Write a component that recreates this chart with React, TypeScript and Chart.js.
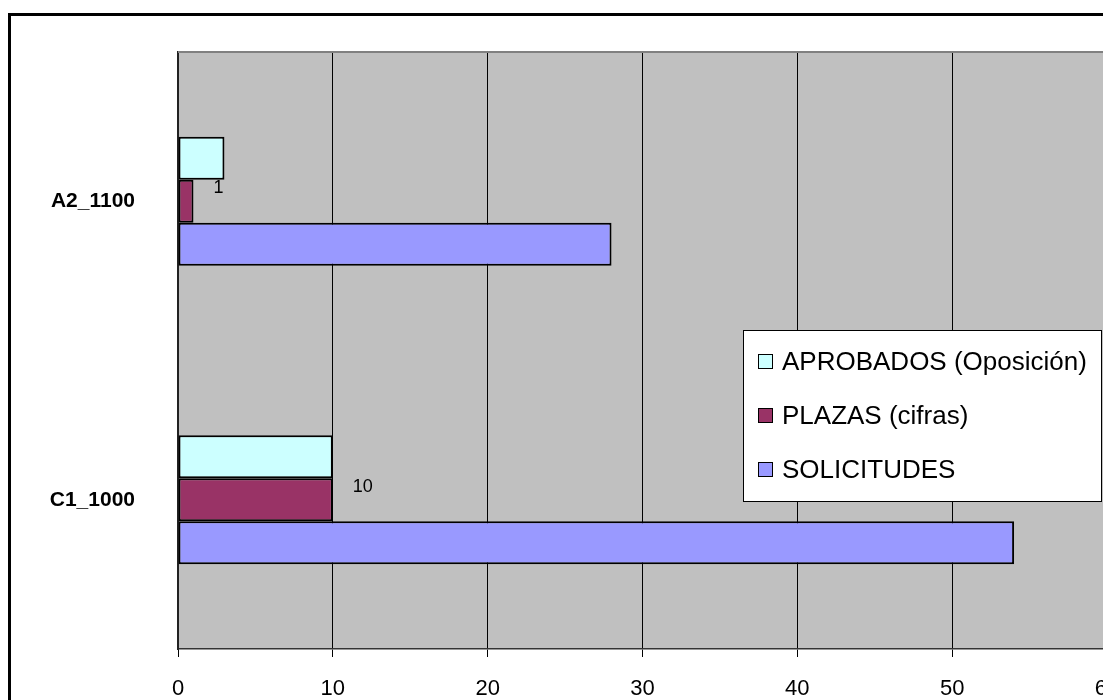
import React, { useEffect, useRef } from "react";
import { Chart, registerables } from "chart.js";

Chart.register(...registerables);

const categories = ["A2_1100", "C1_1000"];
const seriesNames = ["APROBADOS (Oposición)", "PLAZAS (cifras)", "SOLICITUDES"];
const aprobados = [3, 10];
const plazas = [1, 10];
const solicitudes = [28, 54];
const seriesColors = ["#CCFFFF", "#993366", "#9999FF"];
const xMin = 0;
const xMax = 60;
const xStep = 10;

const FONT = "'Liberation Sans', Arial, sans-serif";

const plotBgPlugin = {
  id: "plotBg",
  beforeDraw(chart: any) {
    const { ctx, chartArea: a } = chart;
    ctx.save();
    ctx.fillStyle = "#C0C0C0";
    ctx.fillRect(a.left, a.top, a.right - a.left, a.bottom - a.top);
    ctx.restore();
  },
  afterDatasetsDraw(chart: any) {
    const { ctx, chartArea: a } = chart;
    ctx.save();
    ctx.strokeStyle = "#808080";
    ctx.lineWidth = 2;
    ctx.beginPath();
    ctx.moveTo(a.left, a.top);
    ctx.lineTo(a.right, a.top);
    ctx.lineTo(a.right, a.bottom);
    ctx.stroke();
    ctx.restore();
  },
};

const valueLabelPlugin = {
  id: "valueLabels",
  afterDatasetsDraw(chart: any) {
    const { ctx } = chart;
    const dsIndex = 1;
    const meta = chart.getDatasetMeta(dsIndex);
    const values = chart.data.datasets[dsIndex].data;
    ctx.save();
    ctx.fillStyle = "#000";
    ctx.font = `18px ${FONT}`;
    ctx.textAlign = "left";
    ctx.textBaseline = "middle";
    meta.data.forEach((el: any, i: number) => {
      ctx.fillText(String(values[i]), el.x + 20, el.y - 13);
    });
    ctx.restore();
  },
};

const boxLegendPlugin = {
  id: "boxLegend",
  afterDraw(chart: any) {
    const { ctx } = chart;
    const bx = 732;
    const by = 314;
    const bw = 358;
    const bh = 171;
    ctx.save();
    ctx.fillStyle = "#FFFFFF";
    ctx.fillRect(bx, by, bw, bh);
    ctx.strokeStyle = "#000";
    ctx.lineWidth = 1;
    ctx.strokeRect(bx + 0.5, by + 0.5, bw, bh);
    ctx.font = `26px ${FONT}`;
    ctx.textBaseline = "middle";
    ctx.textAlign = "left";
    chart.data.datasets.forEach((ds: any, i: number) => {
      const cy = by + 31 + i * 54;
      ctx.fillStyle = ds.backgroundColor;
      ctx.fillRect(bx + 15, cy - 7, 14, 14);
      ctx.strokeStyle = "#000";
      ctx.lineWidth = 1;
      ctx.strokeRect(bx + 15.5, cy - 6.5, 14, 14);
      ctx.fillStyle = "#000";
      ctx.fillText(ds.label, bx + 39, cy + 2);
    });
    ctx.restore();
  },
};

export default function App() {
  const ref = useRef<HTMLCanvasElement>(null);

  useEffect(() => {
    if (!ref.current) return;
    const seriesData = [aprobados, plazas, solicitudes];
    const chart = new Chart(ref.current, {
      type: "bar",
      data: {
        labels: categories,
        datasets: seriesNames.map((name, i) => ({
          label: name,
          data: seriesData[i],
          backgroundColor: seriesColors[i],
          borderColor: "#000",
          borderWidth: 2,
          borderSkipped: false,
          categoryPercentage: 0.432,
          barPercentage: 1,
        })),
      },
      options: {
        indexAxis: "y",
        animation: false,
        responsive: false,
        maintainAspectRatio: false,
        layout: { padding: { top: 36, right: 54, left: 0, bottom: 0 } },
        plugins: {
          legend: { display: false },
          tooltip: { enabled: false },
          title: { display: false },
        },
        scales: {
          x: {
            type: "linear",
            min: xMin,
            max: xMax,
            ticks: {
              stepSize: xStep,
              color: "#000",
              font: { family: FONT, size: 22 },
              padding: 19,
              maxRotation: 0,
            },
            grid: {
              color: (c: any) => (c.tick && c.tick.value === xMax ? "#808080" : "#000"),
              lineWidth: 1,
              tickLength: 8,
              drawTicks: true,
            },
            border: { display: true, color: "#333", width: 1.5 },
            afterFit(scale: any) {
              scale.height = 67;
              scale.paddingLeft = 0;
              scale.paddingRight = 0;
            },
          },
          y: {
            type: "category",
            ticks: {
              color: "#000",
              font: { family: FONT, size: 21, weight: "bold" },
              padding: 43,
            },
            grid: { drawOnChartArea: false, drawTicks: false },
            border: { display: true, color: "#222", width: 2 },
            afterFit(scale: any) {
              scale.width = 167;
              scale.paddingTop = 0;
              scale.paddingBottom = 0;
            },
          },
        },
      },
      plugins: [plotBgPlugin, valueLabelPlugin, boxLegendPlugin],
    } as any);
    return () => chart.destroy();
  }, []);

  return (
    <div style={{ width: 1103, height: 692, overflow: "hidden" }}>
      <div
        style={{
          marginTop: 5,
          border: "3px solid #000",
          width: 1150,
          height: 700,
          background: "#fff",
        }}
      >
        <canvas ref={ref} width={1150} height={700} style={{ display: "block" }} />
      </div>
    </div>
  );
}
